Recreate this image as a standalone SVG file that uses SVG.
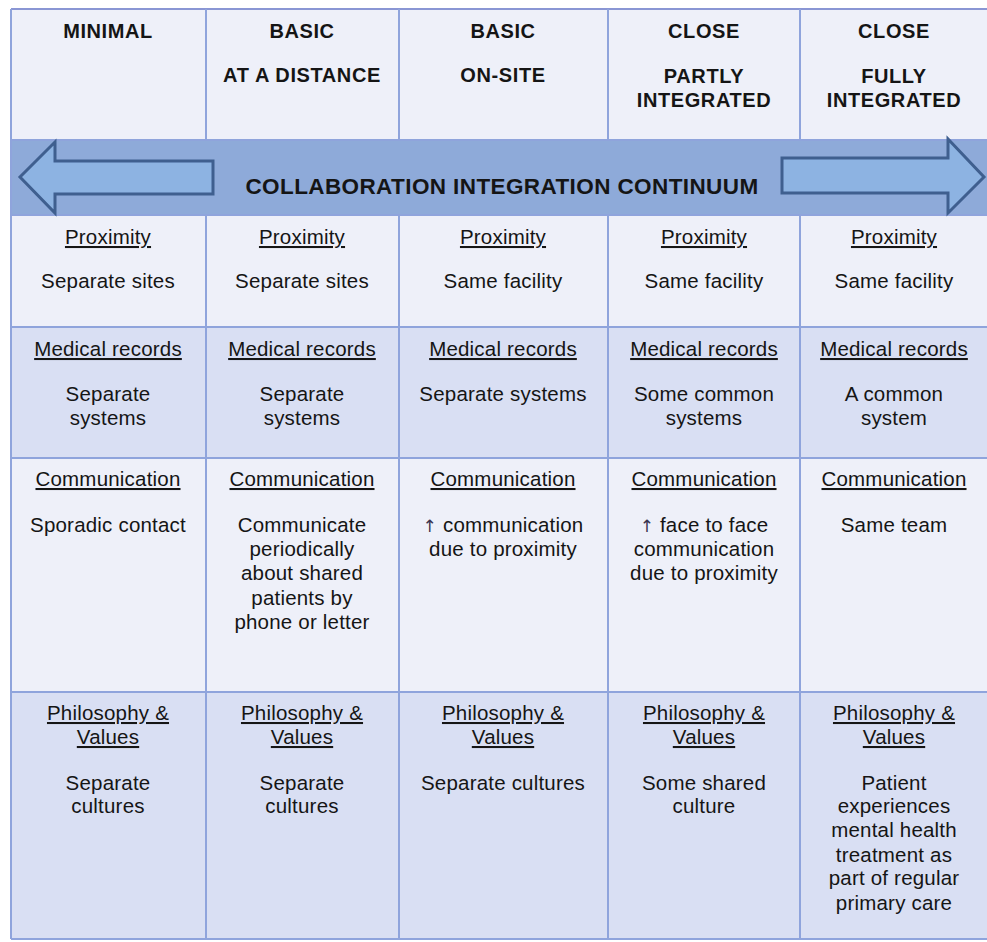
<svg xmlns="http://www.w3.org/2000/svg" width="987" height="942" viewBox="0 0 987 942">
<style>
text{font-family:"Liberation Sans",Arial,sans-serif;fill:#151515;text-anchor:middle}
.h{font-size:20px;font-weight:bold;letter-spacing:0.6px}
.t{font-size:20.5px;letter-spacing:0.2px}
.u{text-decoration:underline}
.up{font-family:"DejaVu Sans",sans-serif;font-size:17px;fill:#3a3550}
.light{fill:#eef0f9}
.dark{fill:#d9dff3}
.grid{stroke:#8fa4dc;stroke-width:2;fill:none}
.arrow{fill:#8db3e2;stroke:#3f5f8f;stroke-width:3;stroke-linejoin:miter}
</style>
<rect x="0" y="0" width="987" height="942" fill="#ffffff"/>
<!-- row backgrounds -->
<rect class="light" x="11" y="9" width="976" height="131"/>
<rect x="11" y="140" width="976" height="75" fill="#8eaad9"/>
<rect class="light" x="11" y="215" width="976" height="112"/>
<rect class="dark" x="11" y="327" width="976" height="131"/>
<rect class="light" x="11" y="458" width="976" height="234"/>
<rect class="dark" x="11" y="692" width="976" height="247"/>
<!-- grid -->
<g id="grid" class="grid">
<line x1="11" y1="9" x2="987" y2="9" stroke="#8a96d4"/>
<line x1="11" y1="9" x2="11" y2="939"/>
<line x1="11" y1="140" x2="987" y2="140"/>
<line x1="11" y1="215" x2="987" y2="215"/>
<line x1="11" y1="327" x2="987" y2="327"/>
<line x1="11" y1="458" x2="987" y2="458"/>
<line x1="11" y1="692" x2="987" y2="692"/>
<line x1="11" y1="939" x2="987" y2="939"/>
<line x1="206" y1="9" x2="206" y2="140"/>
<line x1="399" y1="9" x2="399" y2="140"/>
<line x1="608" y1="9" x2="608" y2="140"/>
<line x1="800" y1="9" x2="800" y2="140"/>
<line x1="206" y1="215" x2="206" y2="939"/>
<line x1="399" y1="215" x2="399" y2="939"/>
<line x1="608" y1="215" x2="608" y2="939"/>
<line x1="800" y1="215" x2="800" y2="939"/>
</g>
<!-- header -->
<g id="h1"><text class="h" x="108" y="38">MINIMAL</text></g>
<g id="h2"><text class="h" x="302" y="38">BASIC</text><text class="h" x="302" y="82">AT A DISTANCE</text></g>
<g id="h3"><text class="h" x="503" y="38">BASIC</text><text class="h" x="503" y="82">ON-SITE</text></g>
<g id="h4"><text class="h" x="704" y="38">CLOSE</text><text class="h" x="704" y="83">PARTLY</text><text class="h" x="704" y="107">INTEGRATED</text></g>
<g id="h5"><text class="h" x="894" y="38">CLOSE</text><text class="h" x="894" y="83">FULLY</text><text class="h" x="894" y="107">INTEGRATED</text></g>
<!-- band -->
<g id="band">
<polygon class="arrow" points="213,161 55,161 55,142 20,177 55,213 55,194 213,194"/>
<polygon class="arrow" points="782,158 948,158 948,139 984,177 948,213 948,193 782,193"/>
<text x="502" y="194" style="font-size:22.5px;font-weight:bold;letter-spacing:0.4px">COLLABORATION INTEGRATION CONTINUUM</text>
</g>
<!-- proximity -->
<g id="p1"><text class="t u" x="108" y="244">Proximity</text><text class="t" x="108" y="288">Separate sites</text></g>
<g id="p2"><text class="t u" x="302" y="244">Proximity</text><text class="t" x="302" y="288">Separate sites</text></g>
<g id="p3"><text class="t u" x="503" y="244">Proximity</text><text class="t" x="503" y="288">Same facility</text></g>
<g id="p4"><text class="t u" x="704" y="244">Proximity</text><text class="t" x="704" y="288">Same facility</text></g>
<g id="p5"><text class="t u" x="894" y="244">Proximity</text><text class="t" x="894" y="288">Same facility</text></g>
<!-- medical records -->
<g id="m1"><text class="t u" x="108" y="356">Medical records</text><text class="t" x="108" y="401">Separate</text><text class="t" x="108" y="425">systems</text></g>
<g id="m2"><text class="t u" x="302" y="356">Medical records</text><text class="t" x="302" y="401">Separate</text><text class="t" x="302" y="425">systems</text></g>
<g id="m3"><text class="t u" x="503" y="356">Medical records</text><text class="t" x="503" y="401">Separate systems</text></g>
<g id="m4"><text class="t u" x="704" y="356">Medical records</text><text class="t" x="704" y="401">Some common</text><text class="t" x="704" y="425">systems</text></g>
<g id="m5"><text class="t u" x="894" y="356">Medical records</text><text class="t" x="894" y="401">A common</text><text class="t" x="894" y="425">system</text></g>
<!-- communication -->
<g id="c1"><text class="t u" x="108" y="486">Communication</text><text class="t" x="108" y="532">Sporadic contact</text></g>
<g id="c2"><text class="t u" x="302" y="486">Communication</text><text class="t" x="302" y="532">Communicate</text><text class="t" x="302" y="556">periodically</text><text class="t" x="302" y="580">about shared</text><text class="t" x="302" y="605">patients by</text><text class="t" x="302" y="629">phone or letter</text></g>
<g id="c3"><text class="t u" x="503" y="486">Communication</text><text class="t" x="503" y="532"><tspan class="up">↑</tspan> communication</text><text class="t" x="503" y="556">due to proximity</text></g>
<g id="c4"><text class="t u" x="704" y="486">Communication</text><text class="t" x="704" y="532"><tspan class="up">↑</tspan> face to face</text><text class="t" x="704" y="556">communication</text><text class="t" x="704" y="580">due to proximity</text></g>
<g id="c5"><text class="t u" x="894" y="486">Communication</text><text class="t" x="894" y="532">Same team</text></g>
<!-- philosophy -->
<g id="v1"><text class="t u" x="108" y="720">Philosophy &amp;</text><text class="t u" x="108" y="744">Values</text><text class="t" x="108" y="790">Separate</text><text class="t" x="108" y="813">cultures</text></g>
<g id="v2"><text class="t u" x="302" y="720">Philosophy &amp;</text><text class="t u" x="302" y="744">Values</text><text class="t" x="302" y="790">Separate</text><text class="t" x="302" y="813">cultures</text></g>
<g id="v3"><text class="t u" x="503" y="720">Philosophy &amp;</text><text class="t u" x="503" y="744">Values</text><text class="t" x="503" y="790">Separate cultures</text></g>
<g id="v4"><text class="t u" x="704" y="720">Philosophy &amp;</text><text class="t u" x="704" y="744">Values</text><text class="t" x="704" y="790">Some shared</text><text class="t" x="704" y="813">culture</text></g>
<g id="v5"><text class="t u" x="894" y="720">Philosophy &amp;</text><text class="t u" x="894" y="744">Values</text><text class="t" x="894" y="790">Patient</text><text class="t" x="894" y="813">experiences</text><text class="t" x="894" y="837">mental health</text><text class="t" x="894" y="862">treatment as</text><text class="t" x="894" y="885">part of regular</text><text class="t" x="894" y="910">primary care</text></g>
</svg>
